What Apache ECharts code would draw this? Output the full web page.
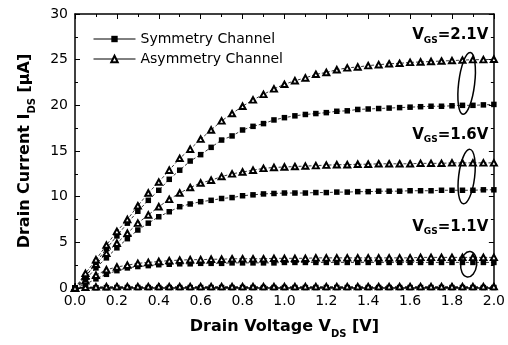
<!DOCTYPE html>
<html><head><meta charset="utf-8">
<script src="https://cdn.jsdelivr.net/npm/echarts@6/dist/echarts.min.js"></script>
<style>html,body{margin:0;padding:0;background:#fff}#c{width:508px;height:345px}</style>
</head><body><div id="c"></div>
<script>
// Drain voltage V_DS [V]
const vds = [0,0.05,0.1,0.15,0.2,0.25,0.3,0.35,0.4,0.45,0.5,0.55,0.6,0.65,0.7,0.75,0.8,0.85,0.9,0.95,
  1.0,1.05,1.1,1.15,1.2,1.25,1.3,1.35,1.4,1.45,1.5,1.55,1.6,1.65,1.7,1.75,1.8,1.85,1.9,1.95,2.0];
// Drain current I_DS [uA]
const sym21 = [0,1.2,2.8,4.3,5.7,7.1,8.4,9.6,10.7,11.9,12.9,13.9,14.6,15.4,16.2,16.65,17.3,17.7,18.0,18.4,
  18.65,18.85,19.0,19.1,19.2,19.35,19.4,19.55,19.6,19.65,19.7,19.75,19.8,19.85,19.9,19.9,19.95,20.0,20.0,20.05,20.1];
const asym21 = [0,1.6,3.1,4.7,6.2,7.5,9.0,10.4,11.6,12.9,14.2,15.2,16.3,17.3,18.3,19.1,19.9,20.6,21.2,21.8,
  22.3,22.7,23.0,23.4,23.6,23.9,24.1,24.2,24.35,24.45,24.55,24.6,24.7,24.75,24.8,24.85,24.9,24.95,25.0,25.0,25.05];
const sym16 = [0,0.9,2.2,3.3,4.4,5.4,6.35,7.1,7.8,8.35,8.9,9.2,9.45,9.6,9.8,9.9,10.1,10.2,10.3,10.35,
  10.4,10.4,10.4,10.45,10.45,10.5,10.5,10.55,10.55,10.6,10.6,10.6,10.65,10.65,10.65,10.7,10.7,10.7,10.7,10.75,10.75];
const asym16 = [0,1.3,2.6,3.8,4.9,6.0,7.1,8.0,8.9,9.7,10.4,11.0,11.5,11.8,12.2,12.5,12.7,12.9,13.1,13.2,
  13.25,13.3,13.35,13.4,13.45,13.5,13.5,13.55,13.55,13.6,13.6,13.6,13.6,13.65,13.65,13.65,13.7,13.7,13.7,13.7,13.7];
const sym11 = [0,0.4,1.0,1.5,1.9,2.2,2.35,2.45,2.55,2.6,2.65,2.65,2.7,2.7,2.7,2.75,2.75,2.75,2.75,2.75,
  2.8,2.8,2.8,2.8,2.8,2.8,2.8,2.8,2.8,2.8,2.8,2.8,2.8,2.8,2.8,2.8,2.8,2.8,2.8,2.8,2.8];
const asym11 = [0,0.8,1.4,2.0,2.3,2.5,2.7,2.8,2.9,3.0,3.05,3.1,3.1,3.15,3.15,3.2,3.2,3.2,3.2,3.25,
  3.25,3.25,3.25,3.3,3.3,3.3,3.3,3.3,3.3,3.3,3.3,3.3,3.3,3.35,3.35,3.35,3.35,3.35,3.35,3.35,3.35];
const sym06 = [0,0.02,0.03,0.04,0.05,0.05,0.05,0.05,0.05,0.05,0.05,0.05,0.05,0.05,0.05,0.05,0.05,0.05,0.05,0.05,
  0.05,0.05,0.05,0.05,0.05,0.05,0.05,0.05,0.05,0.05,0.05,0.05,0.05,0.05,0.05,0.05,0.05,0.05,0.05,0.05,0.05];
const asym06 = [0,0.08,0.12,0.14,0.15,0.15,0.15,0.15,0.15,0.15,0.15,0.15,0.15,0.15,0.15,0.15,0.15,0.15,0.15,0.15,
  0.15,0.15,0.15,0.15,0.15,0.15,0.15,0.15,0.15,0.15,0.15,0.15,0.15,0.15,0.15,0.15,0.15,0.15,0.15,0.15,0.15];
const legendNames = ['Symmetry Channel','Asymmetry Channel'];
const vgsLabels = ['2.1V','1.6V','1.1V'];
// annotation anchor points in data units [V_DS, I_DS]
const labelPos = [[1.61,28.5],[1.61,17.6],[1.61,7.5]];
const ellipsePos = [[1.87,22.4,3.4],[1.87,12.2,3.0],[1.88,2.6,1.4]];

const FONT = 'DejaVu Sans';
const chart = echarts.init(document.getElementById('c'), null, {renderer:'canvas'});
const pairs = a => vds.map((v,i)=>[v,a[i]]);
const lineStyle = {color:'#000', width:0.8, type:[3,2]};
function symSeries(d){return {name:legendNames[0], type:'line', data:pairs(d), symbol:'rect', symbolSize:5.5,
  itemStyle:{color:'#000'}, lineStyle, emphasis:{disabled:true}};}
function asymSeries(d){return {name:legendNames[1], type:'line', data:pairs(d), symbol:'emptyTriangle', symbolSize:[6,5.5],
  itemStyle:{color:'#000', borderWidth:1}, lineStyle, emphasis:{disabled:true}};}

const axisCommon = {axisLine:{onZero:false, lineStyle:{color:'#000', width:1.5}},
  axisTick:{inside:true, length:5, lineStyle:{color:'#000', width:1}},
  minorTick:{show:true, splitNumber:2, length:3, lineStyle:{color:'#000', width:1}},
  splitLine:{show:false}};
const rich = {
  b:{fontFamily:FONT, fontWeight:'bold', fontSize:16, color:'#000', verticalAlign:'top'},
  s:{fontFamily:FONT, fontWeight:'bold', fontSize:10, color:'#000', verticalAlign:'top', padding:[10,0,0,0]}
};
chart.setOption({
  animation:false,
  grid:{left:75, right:12, top:14, bottom:57},
  legend:{data:legendNames, left:88, top:27, orient:'vertical', itemWidth:42, itemHeight:8, itemGap:6,
    textStyle:{fontFamily:FONT, fontSize:14, color:'#000'}, lineStyle:{type:'solid', width:1}},
  xAxis:[
    Object.assign({type:'value', min:0, max:2, interval:0.2, position:'bottom',
      axisLabel:{fontFamily:FONT, fontSize:14, color:'#000', margin:6, formatter:v=>v.toFixed(1)},
      name:'{b|Drain Voltage V}{s|DS}{b| [V]}', nameLocation:'middle', nameGap:31,
      nameTextStyle:{rich}}, axisCommon),
    Object.assign({type:'value', min:0, max:2, interval:0.2, position:'top', axisLabel:{show:false}}, axisCommon)
  ],
  yAxis:[
    Object.assign({type:'value', min:0, max:30, interval:5, position:'left',
      axisLabel:{fontFamily:FONT, fontSize:14, color:'#000', margin:7},
      name:'{b|Drain Current I}{s|DS}{b| [µA]}', nameLocation:'middle', nameGap:38,
      nameTextStyle:{rich}}, axisCommon),
    Object.assign({type:'value', min:0, max:30, interval:5, position:'right', axisLabel:{show:false}}, axisCommon)
  ],
  series:[symSeries(sym06), asymSeries(asym06), symSeries(sym11), asymSeries(asym11),
    symSeries(sym16), asymSeries(asym16), symSeries(sym21), asymSeries(asym21)]
});
const g = [];
labelPos.forEach((p,i)=>{
  const px = chart.convertToPixel({xAxisIndex:0, yAxisIndex:0}, p);
  g.push({type:'text', x:px[0], y:px[1], style:{text:'{v|V}{s|GS}{v|='+vgsLabels[i]+'}',
    rich:{v:{fontFamily:FONT, fontWeight:'bold', fontSize:15, fill:'#000', verticalAlign:'top'},
          s:{fontFamily:FONT, fontWeight:'bold', fontSize:9, fill:'#000', verticalAlign:'top', padding:[8,0,0,0]}}}});
});
ellipsePos.forEach(e=>{
  const c = chart.convertToPixel({xAxisIndex:0, yAxisIndex:0}, [e[0], e[1]]);
  const t = chart.convertToPixel({xAxisIndex:0, yAxisIndex:0}, [e[0], e[1]+e[2]]);
  g.push({type:'ellipse', shape:{cx:c[0], cy:c[1], rx:8, ry:c[1]-t[1]}, rotation:-0.12, originX:c[0], originY:c[1],
    style:{fill:'none', stroke:'#000', lineWidth:1.5}, z:100});
});
chart.setOption({graphic:g});
</script></body></html>
